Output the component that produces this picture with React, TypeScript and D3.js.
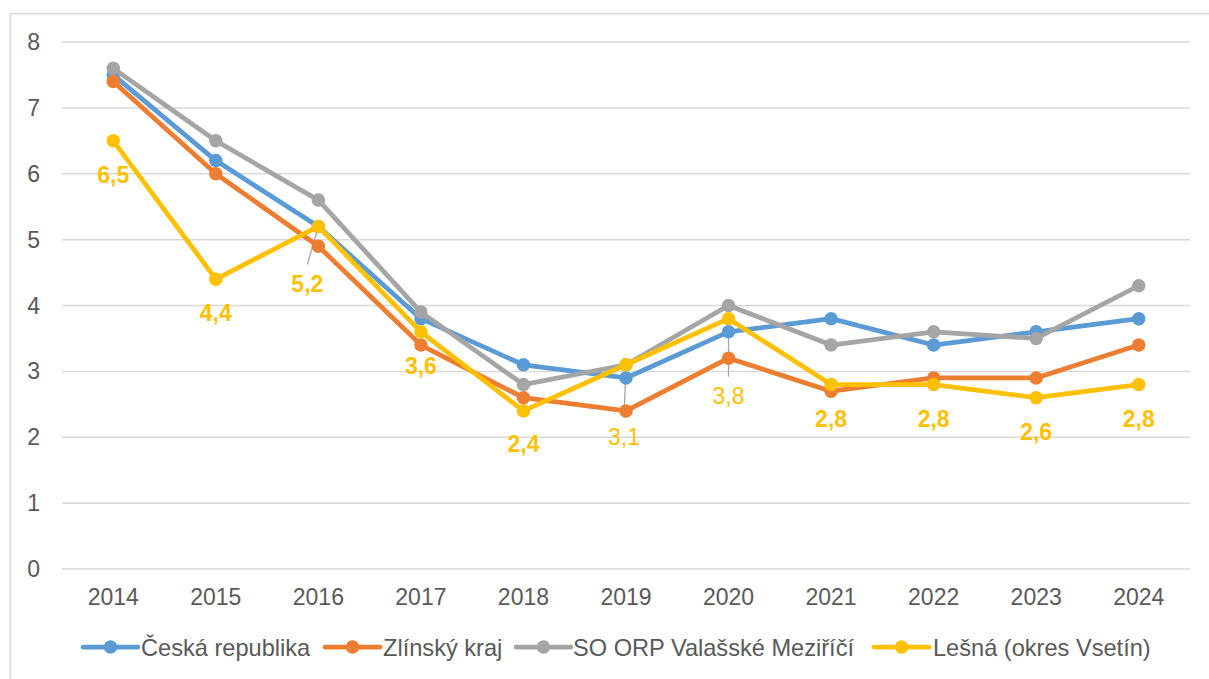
import React from "react";
import * as d3 from "d3";

const years = ["2014","2015","2016","2017","2018","2019","2020","2021","2022","2023","2024"];
const cr = [7.5, 6.2, 5.2, 3.8, 3.1, 2.9, 3.6, 3.8, 3.4, 3.6, 3.8];
const zlin = [7.4, 6.0, 4.9, 3.4, 2.6, 2.4, 3.2, 2.7, 2.9, 2.9, 3.4];
const orp = [7.6, 6.5, 5.6, 3.9, 2.8, 3.1, 4.0, 3.4, 3.6, 3.5, 4.3];
const lesna = [6.5, 4.4, 5.2, 3.6, 2.4, 3.1, 3.8, 2.8, 2.8, 2.6, 2.8];
const yTicks = [0, 1, 2, 3, 4, 5, 6, 7, 8];
const seriesNames = ["Česká republika", "Zlínský kraj", "SO ORP Valašské Meziříčí", "Lešná (okres Vsetín)"];
const seriesColors = ["#5B9BD5", "#ED7D31", "#A5A5A5", "#FFC000"];
// label offsets (dx, dy in px from point), leader flag, bold flag
const labelOffsets: [number, number, boolean, boolean][] = [
  [0, 34, false, true],
  [0, 34, false, true],
  [-11, 57, true, true],
  [0, 34, false, true],
  [0, 33, false, true],
  [-2, 72, true, false],
  [0, 77, true, false],
  [0, 34, false, true],
  [0, 34, false, true],
  [0, 34, false, true],
  [0, 34, false, true],
];

export default function App() {
  const W = 1209, H = 679;
  const left = 62, right = 1190, top = 42, bottom = 569;
  const x = d3.scaleBand().domain(years).range([left, right]);
  const y = d3.scaleLinear().domain([0, 8]).range([bottom, top]);
  const cx = (yr: string) => (x(yr) as number) + x.bandwidth() / 2;
  const allSeries = [cr, zlin, orp, lesna];
  const line = d3.line<number>().x((_, i) => cx(years[i])).y((v) => y(v));
  const font = "Liberation Sans, Arial, sans-serif";

  const legendItems = [
    { lx: 83, tx: 141 },
    { lx: 325, tx: 383 },
    { lx: 516, tx: 573 },
    { lx: 874, tx: 933 },
  ];

  return (
    <svg width={W} height={H} style={{ position: "absolute", left: 0, top: 0 }} fontFamily={font}>
      <rect x={0} y={0} width={W} height={H} fill="#fff" />
      <rect x={10.25} y={13.75} width={W + 20} height={H + 20} fill="none" stroke="#D9D9D9" strokeWidth={1.5} />
      {yTicks.map((t) => (
        <g key={t}>
          <line x1={left} x2={right} y1={y(t)} y2={y(t)} stroke="#D9D9D9" strokeWidth={1.5} />
          <text x={40} y={y(t)} dy="0.35em" textAnchor="end" fontSize={23} fill="#595959">{t}</text>
        </g>
      ))}
      {years.map((yr) => (
        <text key={yr} x={cx(yr)} y={605} textAnchor="middle" fontSize={23} fill="#595959">{yr}</text>
      ))}
      {/* leader lines */}
      {lesna.map((v, i) => {
        const [dx, dy, leader] = labelOffsets[i];
        if (!leader) return null;
        const px = cx(years[i]), py = y(v);
        return <line key={"l" + i} x1={px} y1={py} x2={px + dx} y2={py + dy - 19} stroke="#A6A6A6" strokeWidth={1.3} />;
      })}
      {allSeries.map((s, k) => (
        <g key={k}>
          <path d={line(s) || ""} fill="none" stroke={seriesColors[k]} strokeWidth={4.75} strokeLinejoin="round" />
          {s.map((v, i) => (
            <circle key={i} cx={cx(years[i])} cy={y(v)} r={6.75} fill={seriesColors[k]} />
          ))}
        </g>
      ))}
      {lesna.map((v, i) => {
        const [dx, dy, , bold] = labelOffsets[i];
        return (
          <text key={"t" + i} x={cx(years[i]) + dx} y={y(v) + dy} dy="0.35em" textAnchor="middle"
            fontSize={23} fontWeight={bold ? "bold" : "normal"} fill="#FFC000">
            {String(v).replace(".", ",")}
          </text>
        );
      })}
      {legendItems.map((it, k) => (
        <g key={k}>
          <line x1={it.lx} x2={it.lx + 55} y1={647} y2={647} stroke={seriesColors[k]} strokeWidth={4.75} strokeLinecap="round" />
          <circle cx={it.lx + 27.5} cy={647} r={6.75} fill={seriesColors[k]} />
          <text x={it.tx} y={656} fontSize={23.6} fill="#595959">{seriesNames[k]}</text>
        </g>
      ))}
    </svg>
  );
}
